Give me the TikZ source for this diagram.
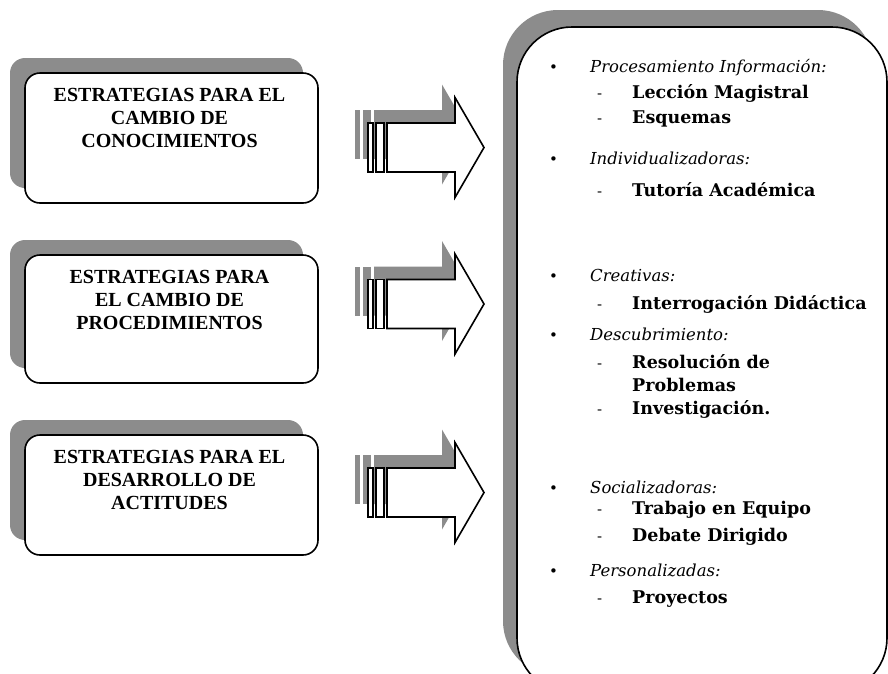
\documentclass[tikz,border=0pt]{standalone}
\usepackage{fontspec}
\setmainfont{Liberation Serif}
\newfontfamily\listfont{DejaVu Serif}
\usetikzlibrary{shadows,calc}

\definecolor{shadowgray}{gray}{0.55}

\tikzset{
  stratbox/.style={draw, line width=1.6pt, fill=white, rounded corners=15pt,
    minimum width=293pt,
    drop shadow={shadow xshift=-15pt, shadow yshift=15pt, fill=shadowgray, opacity=1}},
  strattext/.style={align=center, inner sep=0pt, font=\fontsize{20}{23}\selectfont\bfseries},
  methodbox/.style={draw, line width=1.6pt, fill=white, rounded corners=55pt,
    minimum width=370pt, minimum height=666pt,
    drop shadow={shadow xshift=-14pt, shadow yshift=17pt, fill=shadowgray, opacity=1}},
  bul/.style={anchor=base west, inner sep=0pt, font=\listfont\fontsize{15}{18}\selectfont},
  grp/.style={anchor=base west, inner sep=0pt, font=\listfont\itshape\fontsize{16.5}{19}\selectfont},
  itm/.style={anchor=base west, inner sep=0pt, font=\listfont\bfseries\fontsize{17.5}{20}\selectfont},
  pics/stripearrow/.style={code={
    % shadow copy, up and to the left
    \begin{scope}[shift={(-13,-13)}]
      \fill[shadowgray] (0,-24.5) rectangle (5,24.5);
      \fill[shadowgray] (8,-24.5) rectangle (16,24.5);
      \fill[shadowgray] (19,-24.5) -- (87,-24.5) -- (87,-50) -- (116,0)
        -- (87,50) -- (87,24.5) -- (19,24.5) -- cycle;
    \end{scope}
    \draw[fill=white, line width=1.6pt] (0,-24.5) rectangle (5,24.5);
    \draw[fill=white, line width=1.6pt] (8,-24.5) rectangle (16,24.5);
    \draw[fill=white, line width=1.6pt, line join=miter] (19,-24.5) -- (87,-24.5) -- (87,-50) -- (116,0)
      -- (87,50) -- (87,24.5) -- (19,24.5) -- cycle;
  }}
}

\begin{document}
\begin{tikzpicture}[x=1pt, y=-1pt]
  \useasboundingbox (0,0) rectangle (888,673);
  \clip (0,0) rectangle (888,673);

  % Left: three strategy boxes
  \node[stratbox, minimum height=130pt] (know) at (171.5,138) {};
  \node[stratbox, minimum height=128pt] (proc) at (171.5,319) {};
  \node[stratbox, minimum height=120pt] (atti) at (171.5,495) {};
  \node[strattext] (knowtxt) at ($(know.north)+(-2,46)$) {ESTRATEGIAS PARA EL\\CAMBIO DE\\CONOCIMIENTOS};
  \node[strattext] (proctxt) at ($(proc.north)+(-2,46)$) {ESTRATEGIAS PARA\\EL CAMBIO DE\\PROCEDIMIENTOS};
  \node[strattext] (attitxt) at ($(atti.north)+(-2,46)$) {ESTRATEGIAS PARA EL\\DESARROLLO DE\\ACTITUDES};

  % Middle: striped arrows
  \pic (arrA) at (368,147.5) {stripearrow};
  \pic (arrB) at (368,304) {stripearrow};
  \pic (arrC) at (368,492.5) {stripearrow};

  % Right: methods box
  \node[methodbox] (methods) at (702,360) {};
  \foreach \y/\txt [count=\i] in {72/Procesamiento Información:, 164/Individualizadoras:,
      281/Creativas:, 340/Descubrimiento:, 493/Socializadoras:, 576/Personalizadas:} {
    \node[bul] (b\i) at (549,\y) {•};
    \node[grp] (g\i) at (590,\y) {\txt};
  }
  \foreach \y/\txt [count=\i] in {98/Lección Magistral, 123/Esquemas, 196/Tutoría Académica,
      309/Interrogación Didáctica, 368/Resolución de, 414/Investigación.,
      514/Trabajo en Equipo, 541/Debate Dirigido, 603/Proyectos} {
    \node[bul] (d\i) at (597,\y) {-};
    \node[itm] (t\i) at (632,\y) {\txt};
  }
  \node[itm] (t5b) at (632,391) {Problemas};
\end{tikzpicture}
\end{document}
